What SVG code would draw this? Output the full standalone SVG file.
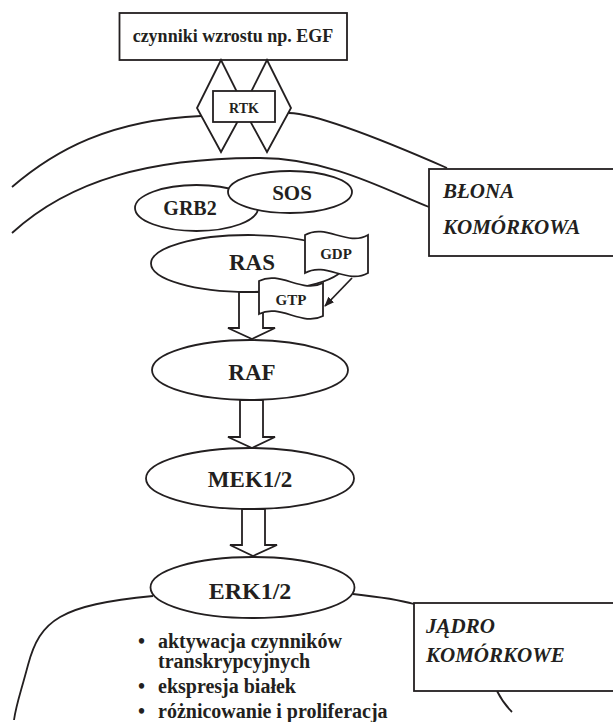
<svg xmlns="http://www.w3.org/2000/svg" width="613" height="722" viewBox="0 0 613 722">
<style>
  .ln{fill:none;stroke:#231f20;stroke-width:1.8}
  .sh{fill:#fff;stroke:#231f20;stroke-width:1.8}
  .t{font-family:"Liberation Serif","Times New Roman",serif;font-weight:bold;fill:#231f20}
  .it{font-family:"Liberation Serif","Times New Roman",serif;font-weight:bold;font-style:italic;fill:#231f20;font-size:21px}
  .c{text-anchor:middle}
</style>
<defs>
  <marker id="ah" markerWidth="10" markerHeight="8" refX="9" refY="4" orient="auto" markerUnits="userSpaceOnUse">
    <path d="M0,0 L10,4 L0,8 Z" fill="#231f20"/>
  </marker>
</defs>
<rect width="613" height="722" fill="#fff"/>

<g id="membrane">
  <path class="ln" d="M12,187 C55,150 110,120 201,116"/>
  <path class="ln" d="M289,113 C320,114 390,143 447,168"/>
  <path class="ln" d="M12,233 C70,180 150,158 260,158 C330,158 390,192 429,207"/>
</g>

<g id="nucleus">
  <path class="ln" d="M153,596 C60,605 40,620 28,665 C20,695 16,705 14,720"/>
  <path class="ln" d="M353,594 C380,597 400,600 414,604"/>
  <path class="ln" d="M497,691 Q503,703 512,712"/>
</g>

<g id="egf">
  <rect class="sh" x="119.5" y="13" width="227.5" height="47"/>
  <text class="t c" x="233" y="42" font-size="18">czynniki wzrostu np. EGF</text>
</g>

<g id="rtk">
  <path class="ln" d="M221,60 L197,108 L221,152 L245,108 Z"/>
  <path class="ln" d="M267,60 L291,108 L267,152 L243,108 Z"/>
  <rect class="sh" x="213" y="91" width="62" height="31" stroke-width="2.4"/>
  <text class="t c" x="244" y="112.5" font-size="14">RTK</text>
</g>

<g id="blona">
  <rect class="sh" x="429" y="169" width="190" height="87"/>
  <text class="it" x="443" y="198">BŁONA</text>
  <text class="it" x="443" y="234">KOMÓRKOWA</text>
</g>

<g id="grb2">
  <ellipse class="sh" cx="196.5" cy="208" rx="61.5" ry="23"/>
  <text class="t c" x="190" y="215" font-size="20">GRB2</text>
</g>
<g id="sos">
  <ellipse class="sh" cx="290" cy="192" rx="62" ry="21"/>
  <text class="t c" x="292" y="200" font-size="21">SOS</text>
</g>

<g id="ras">
  <ellipse class="sh" cx="248" cy="263.5" rx="97" ry="28.5"/>
  <text class="t c" x="252" y="270" font-size="23">RAS</text>
</g>
<g id="gdp">
  <path class="sh" d="M305,235 C326,223 347,247 368,235 L368,273 C347,285 326,261 305,273 Z"/>
  <text class="t c" x="336" y="259" font-size="15">GDP</text>
</g>

<g id="connectors">
  <path class="sh" d="M239,292 L263,292 L263,328 L275,328 L252,339 L228,328 L239,328 Z"/>
  <path class="sh" d="M240,400 L263,400 L263,437 L275,437 L252,448 L228,437 L240,437 Z"/>
  <path class="sh" d="M242,509 L265,509 L265,545 L277,545 L253,556 L230,545 L242,545 Z"/>
</g>

<g id="gtp">
  <path class="sh" d="M259,281 C280,270 302,294 323,283 L323,316 C302,327 280,303 259,314 Z"/>
  <text class="t c" x="291" y="305" font-size="15">GTP</text>
</g>
<g id="gdp-gtp-arrow">
  <path class="ln" d="M352,278 L325,306" stroke-width="1.4" marker-end="url(#ah)"/>
</g>

<g id="raf">
  <ellipse class="sh" cx="250" cy="370" rx="98" ry="30"/>
  <text class="t c" x="252" y="380" font-size="23">RAF</text>
</g>
<g id="mek">
  <ellipse class="sh" cx="250" cy="478.5" rx="104" ry="30.5"/>
  <text class="t c" x="250" y="487" font-size="23">MEK1/2</text>
</g>
<g id="erk">
  <ellipse class="sh" cx="252.5" cy="587.5" rx="102" ry="30.5"/>
  <text class="t c" x="250" y="599" font-size="24">ERK1/2</text>
</g>

<g id="jadro">
  <rect class="sh" x="414" y="603" width="205" height="88"/>
  <text class="it" x="426" y="633">JĄDRO</text>
  <text class="it" x="426" y="662">KOMÓRKOWE</text>
</g>

<g id="effects" class="t" font-size="20">
  <text x="138" y="648">•</text>
  <text x="158" y="648">aktywacja czynników</text>
  <text x="158" y="668">transkrypcyjnych</text>
  <text x="138" y="693">•</text>
  <text x="158" y="693">ekspresja białek</text>
  <text x="138" y="718">•</text>
  <text x="158" y="718">różnicowanie i proliferacja</text>
</g>
</svg>
